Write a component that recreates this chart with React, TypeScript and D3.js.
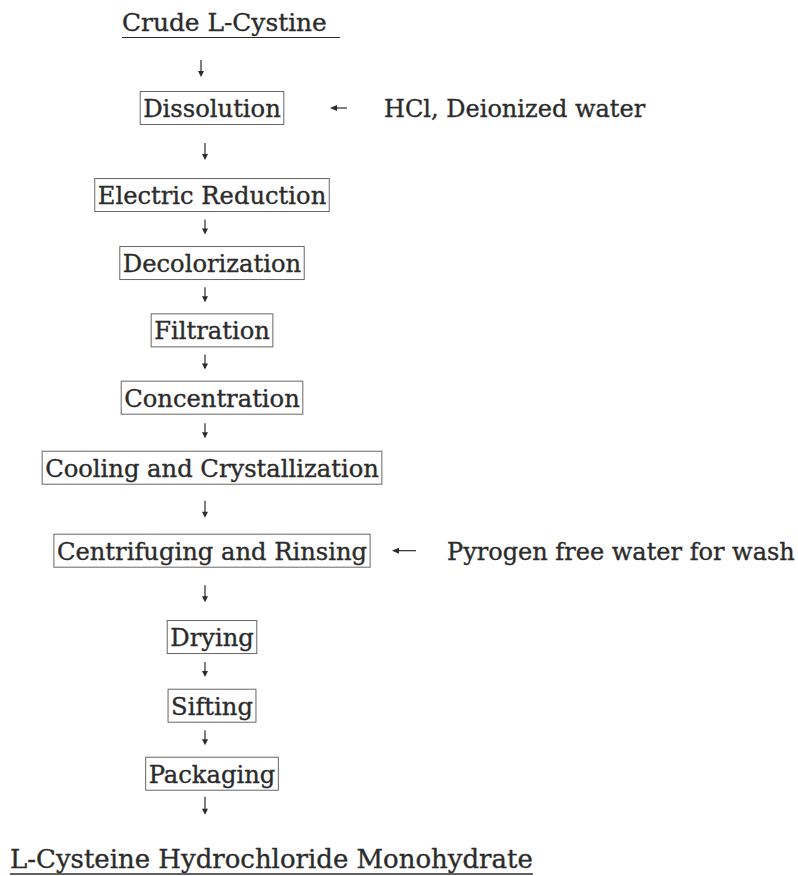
import React, { useEffect, useRef } from "react";
import * as d3 from "d3";

const source = "Crude L-Cystine";
const product = "L-Cysteine Hydrochloride Monohydrate";
const steps = [
  "Dissolution",
  "Electric Reduction",
  "Decolorization",
  "Filtration",
  "Concentration",
  "Cooling and Crystallization",
  "Centrifuging and Rinsing",
  "Drying",
  "Sifting",
  "Packaging",
];
const inputSteps = ["Dissolution", "Centrifuging and Rinsing"];
const inputLabels = ["HCl, Deionized water", "Pyrogen free water for wash"];

export default function App() {
  const svgRef = useRef<SVGSVGElement>(null);

  useEffect(() => {
    const width = 798;
    const height = 876;
    const font = "'DejaVu Serif', serif";
    const ink = "#2b2b2b";
    const svg = d3.select(svgRef.current).attr("width", width).attr("height", height);
    svg.selectAll("*").remove();

    // row positions of the boxes (unequal gaps like the scan)
    const rowPos = [0, 1.28, 2.28, 3.27, 4.26, 5.29, 6.51, 7.78, 8.79, 9.79];
    const y = d3.scaleLinear().domain([0, 1]).range([91, 159]);
    const cx = 212;
    const boxH = 34;
    const pad = 3;

    // find a font size so a label spans a given width
    const probe = svg.append("text").attr("font-family", font).attr("font-size", 20);
    const fit = (txt: string, w: number) => {
      probe.text(txt);
      const l = (probe.node() as SVGTextElement).getComputedTextLength();
      return (20 * w) / l;
    };
    const stepSize = fit("Cooling and Crystallization", 334);
    const sourceSize = fit(source, 205);
    const productSize = fit(product, 523);
    const sideSize = fit(inputLabels[1], 348);
    probe.remove();

    // scanned print looks a bit heavier than DejaVu regular
    const txt = (sel: d3.Selection<SVGTextElement, unknown, null, undefined>, size: number) =>
      sel.attr("font-family", font).attr("font-size", size).attr("fill", ink)
        .attr("stroke", ink).attr("stroke-width", 0.35);

    const arrowDown = (x: number, y1: number, y2: number) => {
      svg.append("line").attr("x1", x).attr("x2", x).attr("y1", y1).attr("y2", y2 - 2)
        .attr("stroke", ink).attr("stroke-width", 1.2);
      svg.append("path")
        .attr("d", `M${x - 3},${y2 - 6} L${x},${y2} L${x + 3},${y2 - 6} Z`)
        .attr("fill", ink);
    };
    const arrowLeft = (x1: number, x2: number, yy: number) => {
      svg.append("line").attr("x1", x1 + 2).attr("x2", x2).attr("y1", yy).attr("y2", yy)
        .attr("stroke", ink).attr("stroke-width", 1.2);
      svg.append("path")
        .attr("d", `M${x1 + 7},${yy - 3} L${x1},${yy} L${x1 + 7},${yy + 3} Z`)
        .attr("fill", ink);
    };

    // source title
    const src = txt(svg.append("text").attr("x", 122).attr("y", 31), sourceSize).text(source);
    const srcW = (src.node() as SVGTextElement).getComputedTextLength();
    svg.append("line").attr("x1", 122).attr("x2", 122 + srcW + 13).attr("y1", 37.5).attr("y2", 37.5)
      .attr("stroke", ink).attr("stroke-width", 1.2);
    arrowDown(201, 60, 77);

    const boxes: { x0: number; x1: number; top: number }[] = [];
    steps.forEach((s, i) => {
      const top = y(rowPos[i]);
      const t = txt(svg.append("text").attr("x", cx).attr("y", top + 26)
        .attr("text-anchor", "middle"), stepSize).text(s);
      const w = (t.node() as SVGTextElement).getComputedTextLength() + pad * 2;
      svg.insert("rect", "text").attr("x", cx - w / 2).attr("y", top + 0.5)
        .attr("width", w).attr("height", boxH - 1)
        .attr("fill", "none").attr("stroke", "#666").attr("stroke-width", 1);
      boxes.push({ x0: cx - w / 2, x1: cx + w / 2, top });
    });

    // arrows between steps
    for (let i = 0; i < steps.length - 1; i++) {
      const b = boxes[i].top + boxH;
      const n = boxes[i + 1].top;
      const gap = n - b;
      const len = gap > 40 ? 17 : 15;
      const mid = b + gap / 2 + (gap > 40 ? 0 : -2);
      arrowDown(205, mid - len / 2, mid + len / 2);
    }
    const last = boxes[steps.length - 1].top + boxH;
    arrowDown(205, last + 6, last + 24);

    // side inputs
    inputSteps.forEach((s, i) => {
      const b = boxes[steps.indexOf(s)];
      const yy = b.top + boxH / 2;
      const ax = i === 0 ? 330 : 392;
      const tx = i === 0 ? 384 : 447;
      arrowLeft(ax, ax + (i === 0 ? 17 : 24), yy);
      txt(svg.append("text").attr("x", tx).attr("y", b.top + 26), sideSize).text(inputLabels[i]);
    });

    // final product
    const p = txt(svg.append("text").attr("x", 10).attr("y", 868), productSize).text(product);
    const pW = (p.node() as SVGTextElement).getComputedTextLength();
    svg.append("line").attr("x1", 10).attr("x2", 10 + pW).attr("y1", 874).attr("y2", 874)
      .attr("stroke", ink).attr("stroke-width", 1.5);
  }, []);

  return (
    <svg ref={svgRef} style={{ position: "absolute", left: 0, top: 0, background: "#fff" }} />
  );
}
